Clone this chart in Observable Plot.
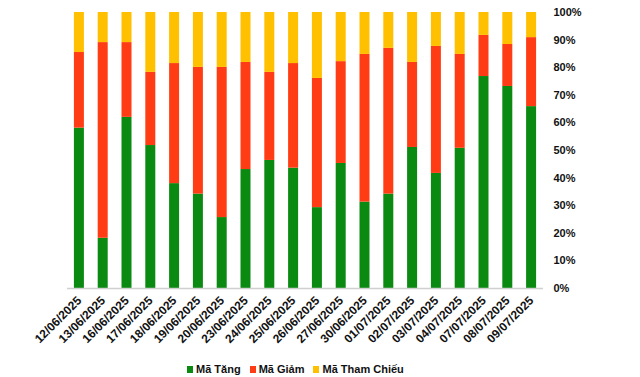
<!DOCTYPE html>
<html>
<head>
<meta charset="utf-8">
<script src="https://cdn.jsdelivr.net/npm/d3@7"></script>
<script src="https://cdn.jsdelivr.net/npm/@observablehq/plot@0.6"></script>
<style>
  html, body { margin: 0; padding: 0; background: #fff; }
  body { width: 640px; height: 377px; overflow: hidden; font-family: "Liberation Sans", Arial, sans-serif; }
  #legend { display: flex; align-items: center; height: 22px; padding-left: 187px; padding-top: 3px; font-size: 11px; font-weight: bold; color: #111; }
  .item { display: flex; align-items: center; margin-right: 9px; }
  .sw { width: 6px; height: 7px; margin-right: 3px; }
</style>
</head>
<body>
<div id="chart"></div>
<div id="legend"></div>
<script>
const dates = ["12/06/2025","13/06/2025","16/06/2025","17/06/2025","18/06/2025","19/06/2025","20/06/2025","23/06/2025","24/06/2025","25/06/2025","26/06/2025","27/06/2025","30/06/2025","01/07/2025","02/07/2025","03/07/2025","04/07/2025","07/07/2025","08/07/2025","09/07/2025"];
const maTang = [58.1, 18.2, 62.0, 51.8, 38.0, 34.2, 25.7, 43.1, 46.4, 43.6, 29.3, 45.3, 31.3, 34.2, 51.1, 41.7, 50.8, 76.8, 73.2, 65.9];
const maGiam = [27.4, 70.9, 27.1, 26.5, 43.5, 45.9, 54.4, 38.8, 31.9, 37.9, 46.8, 36.9, 53.5, 52.8, 30.8, 46.0, 34.0, 14.9, 15.2, 25.0];
const maThamChieu = [14.5, 10.9, 10.9, 21.7, 18.5, 19.9, 19.9, 18.1, 21.7, 18.5, 23.9, 17.8, 15.2, 13.0, 18.1, 12.3, 15.2, 8.3, 11.6, 9.1];
const seriesNames = ["Mã Tăng", "Mã Giảm", "Mã Tham Chiếu"];
const seriesColors = ["#0b8a12", "#ff3c14", "#ffc000"];
const yTicks = [0, 10, 20, 30, 40, 50, 60, 70, 80, 90, 100];

const seriesValues = [maTang, maGiam, maThamChieu];
const rows = [];
dates.forEach((d, i) => {
  seriesNames.forEach((s, k) => rows.push({date: d, series: s, value: seriesValues[k][i]}));
});

const chart = Plot.plot({
  width: 640,
  height: 355,
  marginLeft: 67,
  marginRight: 97,
  marginTop: 12,
  marginBottom: 67,
  style: {fontFamily: "Liberation Sans, Arial, sans-serif", fontSize: "11px", fontWeight: "bold", color: "#111", background: "#fff"},
  x: {domain: dates, padding: 0, round: false, label: null},
  y: {domain: [0, 100], label: null},
  color: {domain: seriesNames, range: seriesColors},
  marks: [
    Plot.barY(rows, Plot.stackY({order: seriesNames}, {x: "date", y: "value", fill: "series", insetLeft: 6.9, insetRight: 6.9})),
    Plot.ruleY([0], {stroke: "#d0d0d0", strokeWidth: 1.5}),
    Plot.axisY(yTicks, {anchor: "right", tickSize: 0, tickPadding: 10, tickFormat: d => d + "%", label: null}),
    Plot.axisX({tickSize: 0, tickRotate: -45, tickPadding: 10, fontSize: 12, label: null})
  ]
});
document.getElementById("chart").appendChild(chart);

const legend = document.getElementById("legend");
seriesNames.forEach((s, k) => {
  const it = document.createElement("div");
  it.className = "item";
  const sw = document.createElement("span");
  sw.className = "sw";
  sw.style.background = seriesColors[k];
  const t = document.createElement("span");
  t.textContent = s;
  it.appendChild(sw); it.appendChild(t);
  legend.appendChild(it);
});
</script>
</body>
</html>
